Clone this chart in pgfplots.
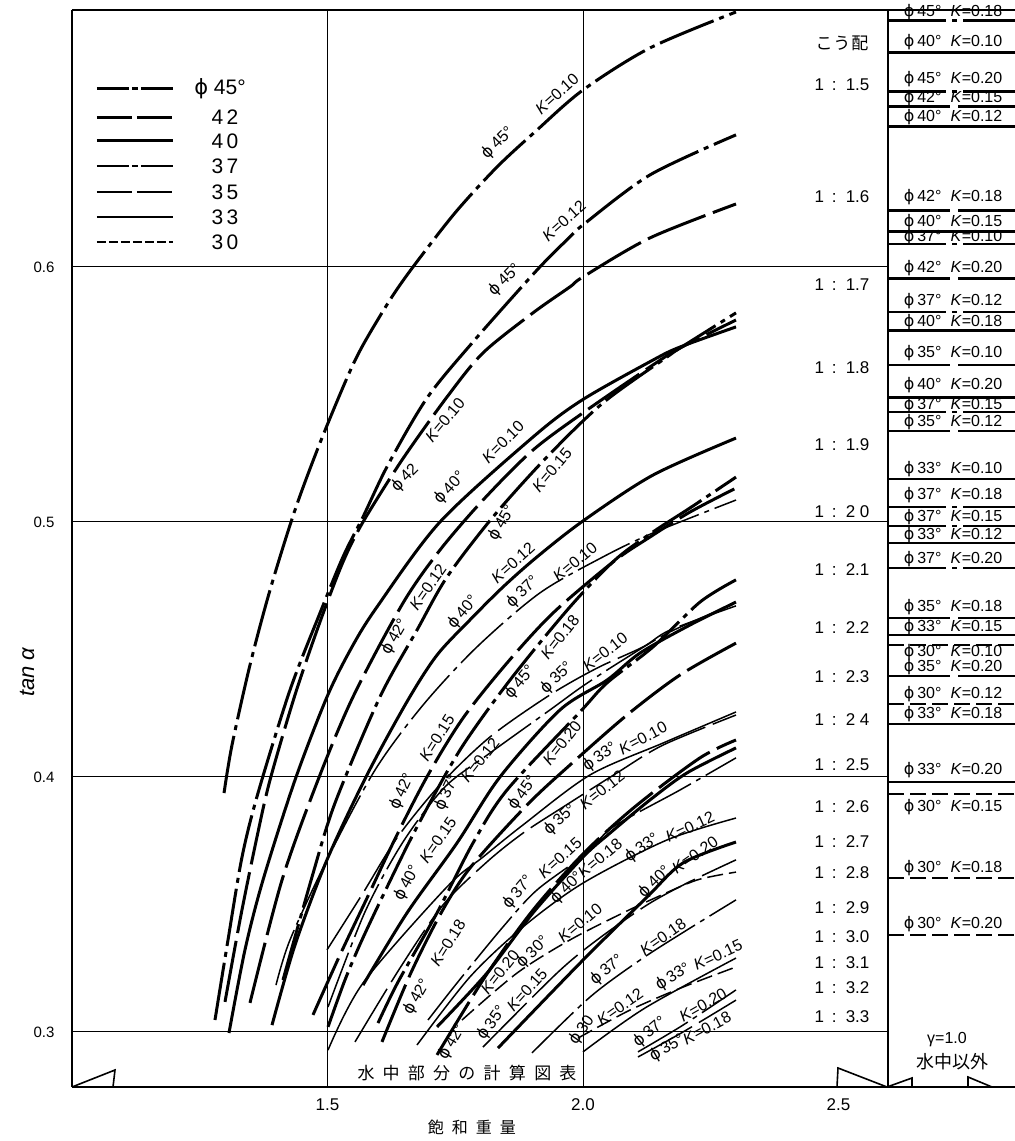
\documentclass[border=0pt]{standalone}
\usepackage{fontspec}
\setmainfont{Liberation Sans}
\newfontfamily\djfont{DejaVu Sans}
\newfontfamily\cjk{Noto Sans CJK JP}
\usepackage{pgfplots}
\pgfplotsset{compat=1.18}
\newcommand\fsz[1]{\fontsize{#1}{#1}\selectfont}
\newcommand\phg{{\djfont\char"03D5}}
\newcommand\Kv[1]{\textit{K}=#1}
\newcommand\TT[4]{\node[rotate=#3,inner sep=0pt] at (#1pt-72pt,1087pt-#2pt) {#4};}
\newcommand\Pnl[3]{\TT{953}{#1}{0}{\fsz{16}\phg\hspace{3pt}#2\textdegree\hspace{9pt}\Kv{#3}}}
\newcommand\Slp[2]{\TT{842}{#1}{0}{\fsz{17}1\hspace{3pt} :\hspace{3pt} #2}}
\newcommand\pll[2]{\addplot[#1,forget plot] coordinates {(2.597,#2) (2.8454,#2)};}
\newcommand\lgl[2]{\addplot[#1,forget plot] coordinates {(1.0489,#2) (1.1976,#2)};}
\tikzset{
 c45/.style={line width=3pt,dash pattern=on 58pt off 6pt on 5pt off 6pt},
 c42/.style={line width=3pt,dash pattern=on 62pt off 8pt},
 c40/.style={line width=3pt},
 c37/.style={line width=1.5pt,dash pattern=on 58pt off 6pt on 5pt off 6pt},
 c35/.style={line width=1.5pt,dash pattern=on 62pt off 8pt},
 c33/.style={line width=1.5pt},
 c30/.style={line width=1.5pt,dash pattern=on 16pt off 6pt},
 gl/.style={line width=1pt},
 fr/.style={line width=2pt},
}
\newcommand\cv[2]{\addplot[#1,smooth,tension=0.5,forget plot] coordinates {#2};}
\begin{document}
\begin{tikzpicture}[x=1pt,y=1pt]
\path[use as bounding box] (-72pt,-54pt) rectangle (943pt,1087pt);
\begin{axis}[
 at={(0pt,0pt)},anchor=south west,
 scale only axis,width=943pt,height=1077pt,
 xmin=1,xmax=2.8454,ymin=0.27843,ymax=0.70078,
 clip=false,
 axis line style={draw=none},
 major tick length=0pt,
 xtick={1.5,2,2.5},xticklabels={1.5,2.0,2.5},
 ytick={0.3,0.4,0.5,0.6},yticklabels={0.3,0.4,0.5,0.6},
 /pgf/number format/assume math mode=true,
 xticklabel style={font=\fsz{17},yshift=-8pt},
 yticklabel style={font=\fsz{15},xshift=-14pt},
 xlabel={\cjk\fsz{16}飽\hspace{8pt}和\hspace{8pt}重\hspace{8pt}量},
 xlabel style={at={(0.424,-0.0371)},anchor=center},
 ylabel={\fsz{22}\itshape tan\ α},
 ylabel style={at={(-0.0477,0.385)},anchor=center,rotate=0},
]
% frame and grid
\addplot[fr,forget plot] coordinates {(1,0.27843) (1,0.70078)};
\addplot[fr,forget plot] coordinates {(1,0.70078) (2.8454,0.70078)};
\addplot[fr,forget plot] coordinates {(1,0.27843) (2.8454,0.27843)};
\addplot[fr,forget plot] coordinates {(2.597,0.27843) (2.597,0.70078)};
\addplot[gl,forget plot] coordinates {(1.5,0.27843) (1.5,0.70078)};
\addplot[gl,forget plot] coordinates {(2,0.27843) (2,0.70078)};
\addplot[gl,forget plot] coordinates {(1,0.3) (2.597,0.3)};
\addplot[gl,forget plot] coordinates {(1,0.4) (2.597,0.4)};
\addplot[gl,forget plot] coordinates {(1,0.5) (2.597,0.5)};
\addplot[gl,forget plot] coordinates {(1,0.6) (2.597,0.6)};
% legend lines
\lgl{line width=3pt,dash pattern=on 32pt off 3pt on 6pt off 3pt}{0.6698}
\lgl{line width=3pt,dash pattern=on 35pt off 5pt}{0.6588}
\lgl{line width=3pt}{0.6494}
\lgl{line width=1.5pt,dash pattern=on 32pt off 3pt on 6pt off 3pt}{0.6396}
\lgl{line width=1.5pt,dash pattern=on 35pt off 5pt}{0.6294}
\lgl{line width=1.5pt}{0.6196}
\lgl{line width=1.5pt,dash pattern=on 9pt off 3pt}{0.6098}
% phi 45
\cv{c45}{(1.2975,.3937)(1.3131,.4125)(1.3483,.4439)(1.3875,.4733)(1.4364,.5047)(1.4853,.5310)(1.5382,.5565)(1.5695,.5694)(1.6223,.5871)(1.6673,.6000)(1.7495,.6212)(1.8317,.6392)(1.9100,.6537)(2.0000,.6694)(2.1311,.6859)(2.2994,.7000)}
\cv{c45}{(1.2798,.3047)(1.3053,.3361)(1.3327,.3686)(1.3640,.3937)(1.4266,.4341)(1.4853,.4643)(1.5303,.4863)(1.5695,.5020)(1.6184,.5224)(1.6947,.5486)(1.7847,.5706)(1.9100,.5988)(1.9745,.6118)(2.0,.6165)(2.1311,.6361)(2.2994,.6518)}
\cv{c45}{(1.4129,.3204)(1.4697,.3608)(1.5147,.3898)(1.6027,.4314)(1.6751,.4576)(1.7338,.4784)(1.8239,.5020)(1.9295,.5255)(2.0391,.5467)(2.1644,.5647)(2.1898,.5682)(2.2994,.5820)}
\cv{c45}{(1.5010,.3020)(1.5342,.3204)(1.5675,.3361)(1.6184,.3576)(1.6751,.3804)(1.7593,.4106)(1.8571,.4380)(1.9745,.4667)(2.0626,.4851)(2.1370,.4961)(2.2094,.5055)(2.2994,.5176)}
\cv{c45}{(1.5988,.3035)(1.6380,.3196)(1.7143,.3467)(1.7847,.3741)(1.8513,.3949)(1.9941,.4255)(2.0470,.4369)(2.1370,.4510)(2.2290,.4686)(2.2994,.4773)}
% phi 42
\cv{c42}{(1.2994,.3118)(1.3307,.3459)(1.3620,.3765)(1.3875,.3988)(1.4364,.4322)(1.4853,.4608)(1.5303,.4843)(1.5695,.5000)(1.6458,.5243)(1.7338,.5490)(1.8043,.5663)(1.9021,.5820)(1.9745,.5922)(2.0,.5961)(2.1311,.6114)(2.2994,.6247)}
\cv{c42}{(1.3483,.3114)(1.4110,.3596)(1.4814,.3988)(1.5499,.4314)(1.6477,.4682)(1.7201,.4890)(1.8043,.5086)(1.9021,.5282)(2.0078,.5439)(2.1370,.5616)(2.1898,.5682)(2.2994,.5792)}
\cv{c42}{(1.4716,.3067)(1.5244,.3302)(1.5773,.3525)(1.6360,.3773)(1.6967,.4008)(1.7652,.4231)(1.8513,.4447)(1.9413,.4643)(2.0587,.4843)(2.1311,.4941)(2.2094,.5039)(2.2994,.5133)}
\cv{c42}{(1.6066,.2961)(1.6614,.3224)(1.7201,.3459)(1.7788,.3643)(1.8904,.3890)(1.9745,.4047)(2.0861,.4243)(2.1898,.4400)(2.2994,.4525)}
\cv{c42}{(1.7143,.2910)(1.8082,.3216)(1.9021,.3478)(2.0039,.3706)(2.1057,.3890)(2.2290,.4075)(2.2994,.4145)}
% phi 40
\cv{c40}{(1.3072,.2996)(1.3385,.3322)(1.3738,.3596)(1.4364,.3988)(1.4990,.4314)(1.5479,.4510)(1.5969,.4667)(1.7201,.5000)(1.9021,.5333)(1.9980,.5478)(2.1370,.5635)(2.1898,.5686)(2.2994,.5765)}
\cv{c40}{(1.3914,.3027)(1.4364,.3341)(1.4990,.3675)(1.5773,.4008)(1.6575,.4302)(1.7143,.4478)(1.7788,.4616)(1.8434,.4745)(1.9100,.4863)(2.0,.5004)(2.1370,.5184)(2.2994,.5329)}
\cv{c40}{(1.5695,.3184)(1.6556,.3467)(1.7534,.3741)(1.8375,.4000)(1.9550,.4263)(2.0470,.4380)(2.1115,.4486)(2.2094,.4596)(2.2994,.4686)}
\cv{c40}{(1.7143,.3020)(1.8121,.3231)(1.9021,.3467)(2.0,.3686)(2.0528,.3780)(2.1311,.3910)(2.2035,.4016)(2.2994,.4114)}
\cv{c40}{(1.8336,.2937)(2.0,.3282)(2.1252,.3529)(2.1957,.3663)(2.2994,.3745)}
% phi 37
\cv{c37}{(1.3992,.3184)(1.4266,.3361)(1.4990,.3675)(1.5929,.4027)(1.6869,.4282)(1.7925,.4510)(1.9158,.4722)(2.0391,.4863)(2.1370,.4957)(2.2994,.5086)}
\cv{c37}{(1.5010,.3098)(1.5734,.3471)(1.6477,.3745)(1.7299,.3961)(1.8180,.4094)(1.9354,.4263)(2.0,.4357)(2.0783,.4459)(2.1703,.4569)(2.2994,.4682)}
\cv{c37}{(1.6967,.3047)(1.7534,.3192)(1.8434,.3412)(1.9100,.3557)(2.0078,.3702)(2.0587,.3804)(2.1898,.3949)(2.2994,.4075)}
\cv{c37}{(1.9002,.2918)(2.0137,.3137)(2.1115,.3282)(2.2035,.3400)(2.2994,.3518)}
\cv{c37}{(2.1076,.2922)(2.1957,.3027)(2.2994,.3165)}
% phi 35
\cv{c35}{(1.4990,.3322)(1.5695,.3545)(1.6360,.3761)(1.7201,.3969)(1.8180,.4157)(1.9354,.4322)(2.0274,.4427)(2.1174,.4510)(2.1703,.4576)(2.2994,.4671)}
\cv{c35}{(1.5538,.2961)(1.6419,.3251)(1.7260,.3498)(1.8121,.3667)(1.8826,.3780)(1.9609,.3882)(2.0665,.4016)(2.1565,.4125)(2.2994,.4243)}
\cv{c35}{(1.8043,.2941)(1.9491,.3231)(2.0274,.3361)(2.1252,.3498)(2.2035,.3584)(2.2994,.3675)}
\cv{c35}{(2.1076,.2902)(2.1957,.3000)(2.2994,.3125)}
% phi 33
\cv{c33}{(1.5010,.2929)(1.5695,.3192)(1.7338,.3569)(1.8043,.3686)(1.8826,.3812)(2.0137,.4008)(2.1565,.4133)(2.2994,.4255)}
\cv{c33}{(1.6751,.2949)(1.7788,.3216)(1.8826,.3412)(2.0,.3584)(2.1643,.3753)(2.2994,.3839)}
\cv{c33}{(2.0,.2922)(2.1213,.3094)(2.2994,.3290)}
% phi 30
\cv{c30}{(1.7632,.3047)(1.8708,.3231)(1.9745,.3361)(2.0783,.3467)(2.1448,.3529)(2.2231,.3596)(2.2994,.3627)}
\cv{c30}{(1.9902,.2976)(2.0920,.3086)(2.1957,.3176)(2.2994,.3255)}
% right panel lines
\pll{c45}{.6965}
\pll{c40}{.6843}
\pll{c45}{.6690}
\pll{c42}{.6631}
\pll{c40}{.6549}
\pll{c42}{.6220}
\pll{c40}{.6141}
\pll{c37}{.6090}
\pll{c42}{.5953}
\pll{c37}{.5824}
\pll{c40}{.5749}
\pll{c35}{.5616}
\pll{c40}{.5490}
\pll{c37}{.5431}
\pll{c35}{.5357}
\pll{c33}{.5169}
\pll{c37}{.5059}
\pll{c37}{.4984}
\pll{c33}{.4918}
\pll{c37}{.4820}
\pll{c35}{.4624}
\pll{c33}{.4557}
\pll{c30}{.4518}
\pll{c35}{.4396}
\pll{c30}{.4286}
\pll{c33}{.4208}
\pll{c33}{.3980}
\pll{c30}{.3933}
\pll{c30}{.3604}
\pll{c30}{.3380}
\end{axis}
% small triangles on the base line
\draw[line width=1.6pt] (0pt,0pt)--(43pt,17pt)--(41pt,0pt);
\draw[line width=1.6pt] (765pt,0pt)--(766pt,19pt)--(815pt,0pt)--(840pt,9pt)--(840pt,0pt);
\draw[line width=1.6pt] (896pt,0pt)--(896pt,10pt)--(920pt,0pt);
% legend text
\TT{220}{89}{0}{\fsz{21}\phg\ 45\textdegree}
\TT{225}{117}{0}{\fsz{21}4\,2}
\TT{225}{141}{0}{\fsz{21}4\,0}
\TT{225}{166}{0}{\fsz{21}3\,7}
\TT{225}{192}{0}{\fsz{21}3\,5}
\TT{225}{217}{0}{\fsz{21}3\,3}
\TT{225}{242}{0}{\fsz{21}3\,0}
% curve labels
\newcommand\CC[4]{\TT{#1}{#2}{#3}{\fsz{16}#4}}
\newcommand\Pg[4]{\TT{#1}{#2}{#3}{\fsz{16}\phg\,#4\textdegree}}
\Pg{498}{143}{45}{45}\CC{557}{94}{42}{\Kv{0.10}}
\Pg{505}{280}{45}{45}\CC{564}{221}{42}{\Kv{0.12}}
\TT{405}{478}{45}{\fsz{16}\phg\,42}\CC{445}{420}{50}{\Kv{0.10}}
\Pg{450}{488}{48}{40}\CC{503}{442}{45}{\Kv{0.10}}
\Pg{502}{523}{60}{45}\CC{552}{470}{50}{\Kv{0.15}}
\Pg{395}{637}{60}{42}\CC{428}{587}{55}{\Kv{0.12}}
\Pg{463}{612}{50}{40}\CC{513}{563}{42}{\Kv{0.12}}
\Pg{523}{592}{45}{37}\CC{575}{562}{40}{\Kv{0.10}}
\Pg{520}{682}{50}{45}\CC{560}{637}{52}{\Kv{0.18}}
\Pg{557}{678}{45}{35}\CC{605}{652}{38}{\Kv{0.10}}
\Pg{402}{792}{65}{42}\CC{437}{738}{58}{\Kv{0.15}}
\Pg{447}{793}{65}{37}\CC{480}{760}{52}{\Kv{0.12}}
\Pg{407}{883}{62}{40}\CC{438}{840}{55}{\Kv{0.15}}
\Pg{523}{793}{55}{45}\CC{562}{743}{52}{\Kv{0.20}}
\Pg{600}{757}{35}{33}\CC{643}{738}{28}{\Kv{0.10}}
\Pg{560}{820}{42}{35}\CC{602}{790}{38}{\Kv{0.12}}
\Pg{417}{997}{60}{42}\CC{448}{943}{58}{\Kv{0.18}}
\Pg{518}{892}{50}{37}\CC{560}{858}{42}{\Kv{0.15}}
\Pg{567}{888}{45}{40}\CC{600}{858}{40}{\Kv{0.18}}
\Pg{642}{848}{35}{33}\CC{690}{827}{25}{\Kv{0.12}}
\Pg{655}{882}{45}{40}\CC{695}{855}{35}{\Kv{0.20}}
\Pg{607}{970}{40}{37}\CC{663}{937}{35}{\Kv{0.18}}
\Pg{673}{977}{32}{33}\CC{718}{955}{25}{\Kv{0.15}}
\TT{582}{1030}{55}{\fsz{16}\phg\,30}\CC{620}{1007}{35}{\Kv{0.12}}
\Pg{650}{1032}{40}{37}\CC{703}{1005}{30}{\Kv{0.20}}
\Pg{667}{1048}{30}{35}\CC{707}{1028}{28}{\Kv{0.18}}
\Pg{492}{1023}{55}{35}\CC{527}{990}{48}{\Kv{0.15}}
\Pg{452}{1042}{60}{42}\CC{500}{972}{52}{\Kv{0.20}}
\Pg{533}{952}{45}{30}\CC{580}{923}{40}{\Kv{0.10}}
% slope column
\TT{842}{43}{0}{\cjk\fsz{17}こ\hspace{1pt}う\hspace{1pt}配}
\Slp{85}{1.5}\Slp{197}{1.6}\Slp{285}{1.7}\Slp{368}{1.8}\Slp{445}{1.9}\Slp{512}{2 0}
\Slp{570}{2.1}\Slp{628}{2.2}\Slp{677}{2.3}\Slp{720}{2 4}\Slp{765}{2.5}\Slp{807}{2.6}
\Slp{842}{2.7}\Slp{873}{2.8}\Slp{908}{2.9}\Slp{937}{3.0}\Slp{963}{3.1}\Slp{988}{3.2}\Slp{1017}{3.3}
% right panel labels
\Pnl{12}{45}{0.18}\Pnl{42}{40}{0.10}\Pnl{79}{45}{0.20}\Pnl{98}{42}{0.15}\Pnl{117}{40}{0.12}
\Pnl{197}{42}{0.18}\Pnl{222}{40}{0.15}\Pnl{237}{37}{0.10}\Pnl{268}{42}{0.20}\Pnl{301}{37}{0.12}
\Pnl{322}{40}{0.18}\Pnl{353}{35}{0.10}\Pnl{385}{40}{0.20}\Pnl{405}{37}{0.15}\Pnl{422}{35}{0.12}
\Pnl{469}{33}{0.10}\Pnl{495}{37}{0.18}\Pnl{517}{37}{0.15}\Pnl{535}{33}{0.12}\Pnl{559}{37}{0.20}
\Pnl{607}{35}{0.18}\Pnl{627}{33}{0.15}\Pnl{652}{30}{0.10}\Pnl{667}{35}{0.20}\Pnl{694}{30}{0.12}
\Pnl{714}{33}{0.18}\Pnl{770}{33}{0.20}\Pnl{807}{30}{0.15}\Pnl{868}{30}{0.18}\Pnl{924}{30}{0.20}
\TT{947}{1040}{0}{\fsz{16}γ=1.0}
\TT{952}{1062}{0}{\cjk\fsz{18}水中以外}
\TT{467}{1073}{0}{\cjk\fsz{17}\makebox[219pt][s]{水\hfill 中\hfill 部\hfill 分\hfill の\hfill 計\hfill 算\hfill 図\hfill 表}}
\end{tikzpicture}
\end{document}
